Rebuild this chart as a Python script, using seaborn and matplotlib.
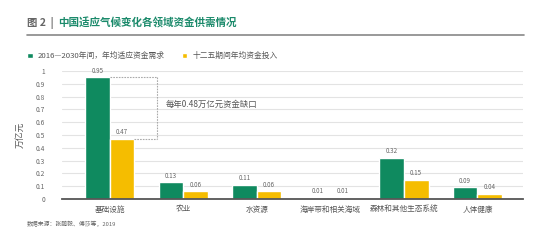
import matplotlib
matplotlib.use("Agg")
import matplotlib.pyplot as plt
import seaborn as sns
import pandas as pd
from matplotlib.patches import Patch

categories = ["基础设施", "农业", "水资源", "海岸带和相关海域", "森林和其他生态系统", "人体健康"]
demand = [0.95, 0.13, 0.11, 0.01, 0.32, 0.09]
investment = [0.47, 0.06, 0.06, 0.01, 0.15, 0.04]
series_names = ["2016—2030年间，年均适应资金需求", "十二五期间年均资金投入"]
yticks = [0, 0.1, 0.2, 0.3, 0.4, 0.5, 0.6, 0.7, 0.8, 0.9, 1]
ytick_labels = ["0", "0.1", "0.2", "0.3", "0.4", "0.5", "0.6", "0.7", "0.8", "0.9", "1"]

GREEN = "#0f8a5f"
YELLOW = "#f5bd00"
TEAL = "#1b8a6b"

sns.set_theme(style="white")
plt.rcParams["font.family"] = ["Noto Sans CJK SC", "DejaVu Sans"]

df = pd.DataFrame({
    "cat": categories * 2,
    "val": demand + investment,
    "series": [series_names[0]] * len(categories) + [series_names[1]] * len(categories),
})

fig = plt.figure(figsize=(5.5, 2.43), dpi=100)
ax = fig.add_axes([0.1127, 0.181, 0.8383, 0.527])
sns.barplot(data=df, x="cat", y="val", hue="series", order=categories,
            hue_order=series_names, palette=[GREEN, YELLOW], width=0.67,
            gap=0, dodge=True, ax=ax, legend=False, saturation=1)

ax.set_ylim(0, 1)
ax.set_xlim(-0.65, 5.62)
ax.set_yticks(yticks)
ax.set_yticklabels(ytick_labels, fontsize=4.8, color="#666666")
ax.tick_params(axis="y", length=0, pad=12)
ax.tick_params(axis="x", length=0, pad=5, labelsize=5.5, labelcolor="#555555")
ax.set_xlabel("")
ax.set_ylabel("万亿元", fontsize=6.3, color="#555555", labelpad=8)
ax.yaxis.grid(True, color="#e3e3e3", linewidth=0.8)
ax.set_axisbelow(True)
for s in ["left", "right", "top"]:
    ax.spines[s].set_visible(False)
ax.spines["bottom"].set_color("#555555")
ax.spines["bottom"].set_linewidth(1.3)

for cont in ax.containers:
    ax.bar_label(cont, labels=[f"{v:g}" for v in cont.datavalues],
                 fontsize=4.5, color="#666666", padding=2)

# gap annotation for infrastructure
g_bar = ax.containers[0].patches[0]
y_bar = ax.containers[1].patches[0]
top = demand[0]
bot = investment[0]
xr = y_bar.get_x() + y_bar.get_width() + 0.305
ls = dict(color="#aaaaaa", linewidth=0.8, linestyle=(0, (1.5, 1)))
ax.plot([g_bar.get_x() + g_bar.get_width(), xr], [top, top], **ls)
ax.plot([xr, xr], [top, bot], **ls)
ax.plot([y_bar.get_x() + y_bar.get_width(), xr], [bot, bot], **ls)
ax.text(xr + 0.12, (top + bot) / 2 + 0.03, f"每年{top - bot:.2f}万亿元资金缺口",
        fontsize=6, color="#555555", va="center", ha="left")

# title
fig.text(27 / 550, 1 - 23 / 243, "图 2  |", fontsize=7.5, color="#666666",
         va="center", ha="left", fontweight="bold")
fig.text(58 / 550, 1 - 23 / 243, "中国适应气候变化各领域资金供需情况", fontsize=7.6,
         color=TEAL, va="center", ha="left", fontweight="bold")
fig.add_artist(plt.Line2D([27 / 550, 524 / 550], [1 - 35 / 243, 1 - 35 / 243],
                          color="#888888", linewidth=1.2))

handles = [Patch(facecolor=GREEN), Patch(facecolor=YELLOW)]
fig.legend(handles, series_names, loc="center left",
           bbox_to_anchor=(27 / 550, 1 - 56 / 243), ncol=2, frameon=False,
           fontsize=5.6, handlelength=0.75, handleheight=0.75, handletextpad=0.6,
           columnspacing=2.2, labelcolor="#555555", borderpad=0, borderaxespad=0)

fig.text(27 / 550, 1 - 224 / 243, "数据来源：张鹏毅、傅莎等，2019", fontsize=4.2,
         color="#666666", va="center", ha="left")

fig.savefig("out.png", dpi=100)
